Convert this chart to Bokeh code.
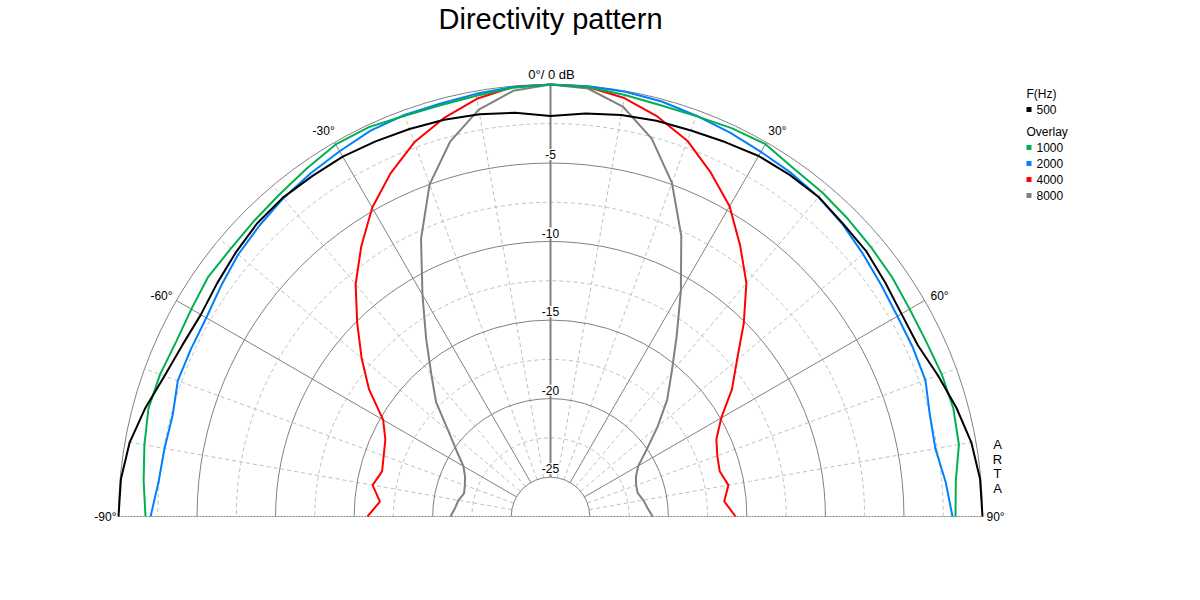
import numpy as np
from bokeh.plotting import figure
from bokeh.models import Range1d, Label
from bokeh.embed import file_html
from bokeh.resources import INLINE
from bokeh.core.properties import value

# ---------------- data ----------------
angles_deg = [-90, -85, -80, -75, -70, -65, -60, -55, -50, -45, -40, -35, -30, -25, -20, -15, -10, -5,
              0, 5, 10, 15, 20, 25, 30, 35, 40, 45, 50, 55, 60, 65, 70, 75, 80, 85, 90]

db_500 = [0.0, -0.05, -0.3, -0.8, -1.35, -1.65, -1.8, -1.6, -1.35, -1.1, -1.0, -1.05, -1.05, -1.15, -1.25, -1.35, -1.5, -1.7,
          -2.0, -1.75, -1.55, -1.42, -1.35, -1.2, -1.0, -0.95, -0.95, -1.15, -1.25, -1.5, -1.7, -1.7, -1.25, -0.75, -0.3, -0.05, 0.0]
db_1000 = [-1.72, -1.5, -1.25, -1.0, -1.05, -1.2, -1.1, -0.9, -0.95, -0.85, -0.7, -0.45, -0.15, -0.15, -0.35, -0.4, -0.3, -0.1,
           0.0, -0.05, -0.25, -0.4, -0.38, -0.22, -0.13, -0.48, -0.58, -0.72, -0.85, -0.95, -1.1, -1.12, -1.0, -0.95, -1.1, -1.6, -1.72]
db_2000 = [-2.04, -2.45, -2.55, -2.6, -2.25, -2.25, -2.2, -1.9, -1.55, -1.3, -1.05, -0.85, -0.65, -0.4, -0.3, -0.3, -0.18, -0.05,
           0.0, 0.0, -0.05, -0.15, -0.35, -0.52, -0.7, -0.8, -0.95, -1.2, -1.52, -1.8, -2.0, -2.05, -2.1, -2.5, -2.62, -2.25, -1.91]
db_4000 = [-15.85, -16.6, -16.0, -16.4, -16.2, -15.9, -15.2, -13.4, -11.8, -10.1, -8.2, -6.5, -4.8, -3.4, -2.15, -1.25, -0.5, -0.06,
           0.0, -0.05, -0.45, -1.15, -2.04, -3.35, -4.7, -6.45, -8.1, -10.1, -12.0, -13.4, -14.95, -15.85, -16.2, -16.35, -16.0, -16.4, -15.72]
db_8000 = [-21.13, -21.4, -21.55, -21.8, -21.7, -21.5, -21.1, -20.2, -19.0, -17.2, -15.7, -13.7, -11.2, -8.0, -5.0, -2.8, -1.2, -0.3,
           0.0, -0.15, -1.0, -2.6, -4.9, -7.8, -10.9, -13.5, -15.5, -17.0, -18.6, -20.0, -21.05, -21.5, -21.7, -21.75, -21.5, -21.3, -21.0]

series_labels = ["500", "1000", "2000", "4000", "8000"]
series_values = [db_500, db_1000, db_2000, db_4000, db_8000]
series_colors = ["#000000", "#00b050", "#0080ff", "#ff0000", "#808080"]

ring_major_db = [0, -5, -10, -15, -20, -25]
ring_major_labels = ["", "-5", "-10", "-15", "-20", "-25"]
ring_minor_db = [-2.5, -7.5, -12.5, -17.5, -22.5]
radial_major_deg = [-60, -30, 30, 60]
radial_minor_deg = [-80, -70, -50, -40, -20, -10, 10, 20, 40, 50, 70, 80]
angle_label_deg = [-60, -30, 30, 60]
angle_label_text = ["-60°", "-30°", "30°", "60°"]

DB_MIN = -27.5
DB_MAX = 0.0
R_OUT = 432.0  # radius of the 0 dB ring in screen pixels


def rad(db):
    return R_OUT * (np.asarray(db, dtype=float) - DB_MIN) / (DB_MAX - DB_MIN)


def polar_xy(theta_deg, db):
    t = np.radians(np.asarray(theta_deg, dtype=float))
    r = rad(db)
    return r * np.sin(t), r * np.cos(t)


FONT = "Liberation Sans"

W, H = 1184, 584
p = figure(width=W, height=H, output_backend="svg", toolbar_location=None,
           x_axis_type=None, y_axis_type=None, min_border=0,
           x_range=Range1d(-550, 634), y_range=Range1d(-68, 516))
p.outline_line_color = None
p.background_fill_color = "white"
p.border_fill_color = "white"

r_in = float(rad(-25))

# minor dashed rings
p.arc(x=0, y=0, radius=[float(v) for v in rad(ring_minor_db)], start_angle=0, end_angle=np.pi,
      line_color="#c0c0c0", line_dash="4 3", line_width=1)
# minor dashed radials
tm = np.radians(radial_minor_deg)
p.segment(x0=r_in * np.sin(tm), y0=r_in * np.cos(tm), x1=R_OUT * np.sin(tm), y1=R_OUT * np.cos(tm),
          line_color="#c0c0c0", line_dash="4 3", line_width=1)
# major rings
p.arc(x=0, y=0, radius=[float(v) for v in rad(ring_major_db)], start_angle=0, end_angle=np.pi,
      line_color="#808080", line_width=1)
# major radials
tM = np.radians(radial_major_deg)
p.segment(x0=r_in * np.sin(tM), y0=r_in * np.cos(tM), x1=R_OUT * np.sin(tM), y1=R_OUT * np.cos(tM),
          line_color="#808080", line_width=1)
# 0 deg radial
p.segment(x0=[0], y0=[r_in], x1=[0], y1=[R_OUT], line_color="#808080", line_width=2)
# base line (+-90 deg)
p.segment(x0=[-R_OUT], y0=[0], x1=[R_OUT], y1=[0], line_color="#808080", line_dash="2 1", line_width=1)

# white boxes behind the dB ring labels (hide the 0 deg radial there)
lab_db = [d for d, t in zip(ring_major_db, ring_major_labels) if t]
lab_tx = [t for t in ring_major_labels if t]
box_y = [float(rad(d)) + 8.5 for d in lab_db]
box_w = [7 * len(t) for t in lab_tx]
p.rect(x=[0] * len(box_y), y=box_y, width=box_w, height=[11] * len(box_y),
       fill_color="white", line_color=None)

# dB ring labels
for yy, t in zip(box_y, lab_tx):
    p.add_layout(Label(x=0, y=yy, text=t, text_align="center", text_baseline="middle",
                       text_font=FONT, text_font_size="12px", text_color="black"))

# curves
for lab, vals, col in zip(series_labels[::-1], series_values[::-1], series_colors[::-1]):
    x, y = polar_xy(angles_deg, vals)
    p.line(x, y, line_color=col, line_width=2)

# angle labels
p.add_layout(Label(x=1, y=R_OUT + 10, text="0°/ 0 dB", text_align="center", text_baseline="middle",
                   text_font=FONT, text_font_size="13px", text_color="black"))
for a, t in zip(angle_label_deg, angle_label_text):
    lx, ly = polar_xy([a + 0.5 * np.sign(a)], [0])
    lr = (R_OUT + 15) / R_OUT
    p.add_layout(Label(x=float(lx[0]) * lr, y=float(ly[0]) * lr, text=t, text_align="center",
                       text_baseline="middle", text_font=FONT, text_font_size="12px", text_color="black"))
p.add_layout(Label(x=-R_OUT - 2, y=0, text="-90°", text_align="right", text_baseline="middle",
                   text_font=FONT, text_font_size="12px", text_color="black"))
p.add_layout(Label(x=R_OUT + 4, y=0, text="90°", text_align="left", text_baseline="middle",
                   text_font=FONT, text_font_size="12px", text_color="black"))

# ARTA vertical
arta_letters = ["A", "R", "T", "A"]
for i, ch in enumerate(arta_letters):
    p.add_layout(Label(x=R_OUT + 15, y=72 - i * 14.5, text=ch, text_align="center", text_baseline="middle",
                       text_font=FONT, text_font_size="13px", text_color="black"))

# title
p.add_layout(Label(x=0, y=498, text="Directivity pattern", text_align="center", text_baseline="middle",
                   text_font=FONT, text_font_size="29px", text_color="black"))

# legend
LX = 476
p.add_layout(Label(x=LX, y=516 - 93, text="F(Hz)", text_align="left", text_baseline="middle",
                   text_font=FONT, text_font_size="12px", text_color="black"))
p.add_layout(Label(x=LX, y=516 - 131, text="Overlay", text_align="left", text_baseline="middle",
                   text_font=FONT, text_font_size="12px", text_color="black"))
leg_y = [516 - 109, 516 - 147, 516 - 163, 516 - 179, 516 - 195]
p.scatter(x=[LX + 2.5] * len(leg_y), y=leg_y, marker="square", size=5,
          fill_color=series_colors, line_color=None)
for lab, yy in zip(series_labels, leg_y):
    p.add_layout(Label(x=LX + 10, y=yy, text=lab, text_align="left", text_baseline="middle",
                       text_font=FONT, text_font_size="12px", text_color="black"))

open("out.html", "w").write(file_html(p, INLINE))
